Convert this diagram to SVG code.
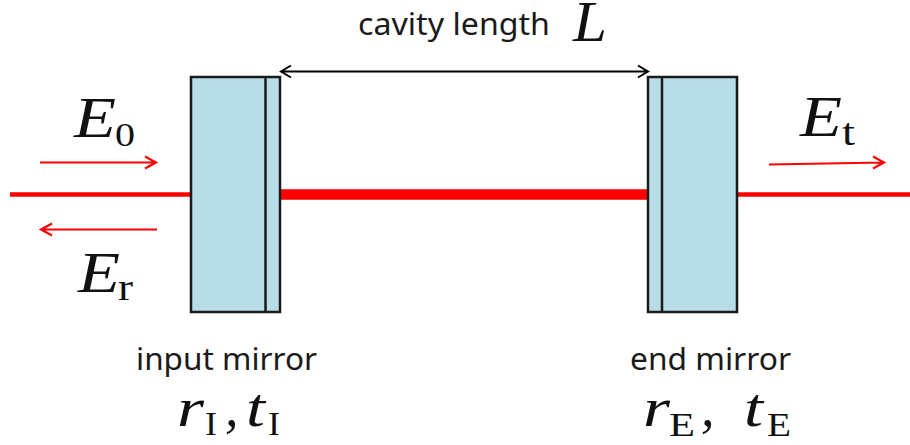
<svg xmlns="http://www.w3.org/2000/svg" width="910" height="445" viewBox="0 0 910 445">
<defs>
<style>
.m{fill:#b7dde8;stroke:#1a1a1a;stroke-width:2.5}
.d{stroke:#1a1a1a;stroke-width:2.5;fill:none}
.beam{stroke:#f00;fill:none}
.ar{stroke:#f00;stroke-width:2.2;fill:none}
.bk{stroke:#000;stroke-width:2;fill:none}
.t{font-family:"Noto Sans",sans-serif;font-size:30px;fill:#1a1a1a}
.v{font-family:"Liberation Serif",serif;font-style:italic;font-size:57px;fill:#111}
.v2{font-family:"Liberation Serif",serif;font-style:italic;font-size:54px;fill:#111}
.s{font-family:"Liberation Serif",serif;font-size:33px;fill:#111}
.s2{font-family:"Liberation Serif",serif;font-size:38px;fill:#111}
</style>
</defs>
<g id="connectors">
<path class="beam" stroke-width="4.5" d="M10 194.5H191"/>
<path class="beam" stroke-width="10.5" d="M280 194.5H648"/>
<path class="beam" stroke-width="4.5" d="M737 194.5H910"/>
<path class="ar" d="M40 162.5H156M145 156.5L156 162.5L145 168.5"/>
<path class="ar" d="M157 229.5H41M52 223.5L41 229.5L52 235.5"/>
<path class="ar" d="M769 164.5L884 162.5M873 156.5L884 162.5L873 168.5"/>
<path class="bk" d="M281 71.5H648M291 65.5L281 71.5L291 77.5M638 65.5L648 71.5L638 77.5"/>
</g>
<g id="input-mirror">
<rect class="m" x="191" y="77" width="89" height="235"/>
<path class="d" d="M265.5 77V312"/>
<text class="t" x="136" y="370" textLength="181" lengthAdjust="spacingAndGlyphs">input mirror</text>
<text class="v2" x="177" y="426" textLength="27" lengthAdjust="spacingAndGlyphs">r</text>
<text class="s" x="205" y="435" textLength="12" lengthAdjust="spacingAndGlyphs">I</text>
<text class="v2" x="225" y="426">,</text>
<text class="v2" x="246" y="426" textLength="19" lengthAdjust="spacingAndGlyphs">t</text>
<text class="s" x="268" y="435" textLength="12" lengthAdjust="spacingAndGlyphs">I</text>
</g>
<g id="end-mirror">
<rect class="m" x="648" y="77" width="89" height="235"/>
<path class="d" d="M662 77V312"/>
<text class="t" x="630" y="370" textLength="161" lengthAdjust="spacingAndGlyphs">end mirror</text>
<text class="v2" x="643" y="426" textLength="27" lengthAdjust="spacingAndGlyphs">r</text>
<text class="s" x="669" y="436" textLength="26" lengthAdjust="spacingAndGlyphs">E</text>
<text class="v2" x="701" y="426">,</text>
<text class="v2" x="744" y="426" textLength="19" lengthAdjust="spacingAndGlyphs">t</text>
<text class="s" x="767" y="436" textLength="24" lengthAdjust="spacingAndGlyphs">E</text>
</g>
<g id="label-cavity">
<text class="t" x="358" y="35" textLength="192" lengthAdjust="spacingAndGlyphs">cavity length</text>
<text class="v" x="573" y="41" textLength="34" lengthAdjust="spacingAndGlyphs">L</text>
</g>
<g id="label-e0">
<text class="v" x="74" y="137" textLength="42" lengthAdjust="spacingAndGlyphs">E</text>
<text class="s" x="115" y="146" textLength="20" lengthAdjust="spacingAndGlyphs">0</text>
</g>
<g id="label-er">
<text class="v" x="78" y="292" textLength="42" lengthAdjust="spacingAndGlyphs">E</text>
<text class="s2" x="118" y="300" textLength="15" lengthAdjust="spacingAndGlyphs">r</text>
</g>
<g id="label-et">
<text class="v" x="800" y="136" textLength="42" lengthAdjust="spacingAndGlyphs">E</text>
<text class="s2" x="842" y="145" textLength="13" lengthAdjust="spacingAndGlyphs">t</text>
</g>
</svg>
